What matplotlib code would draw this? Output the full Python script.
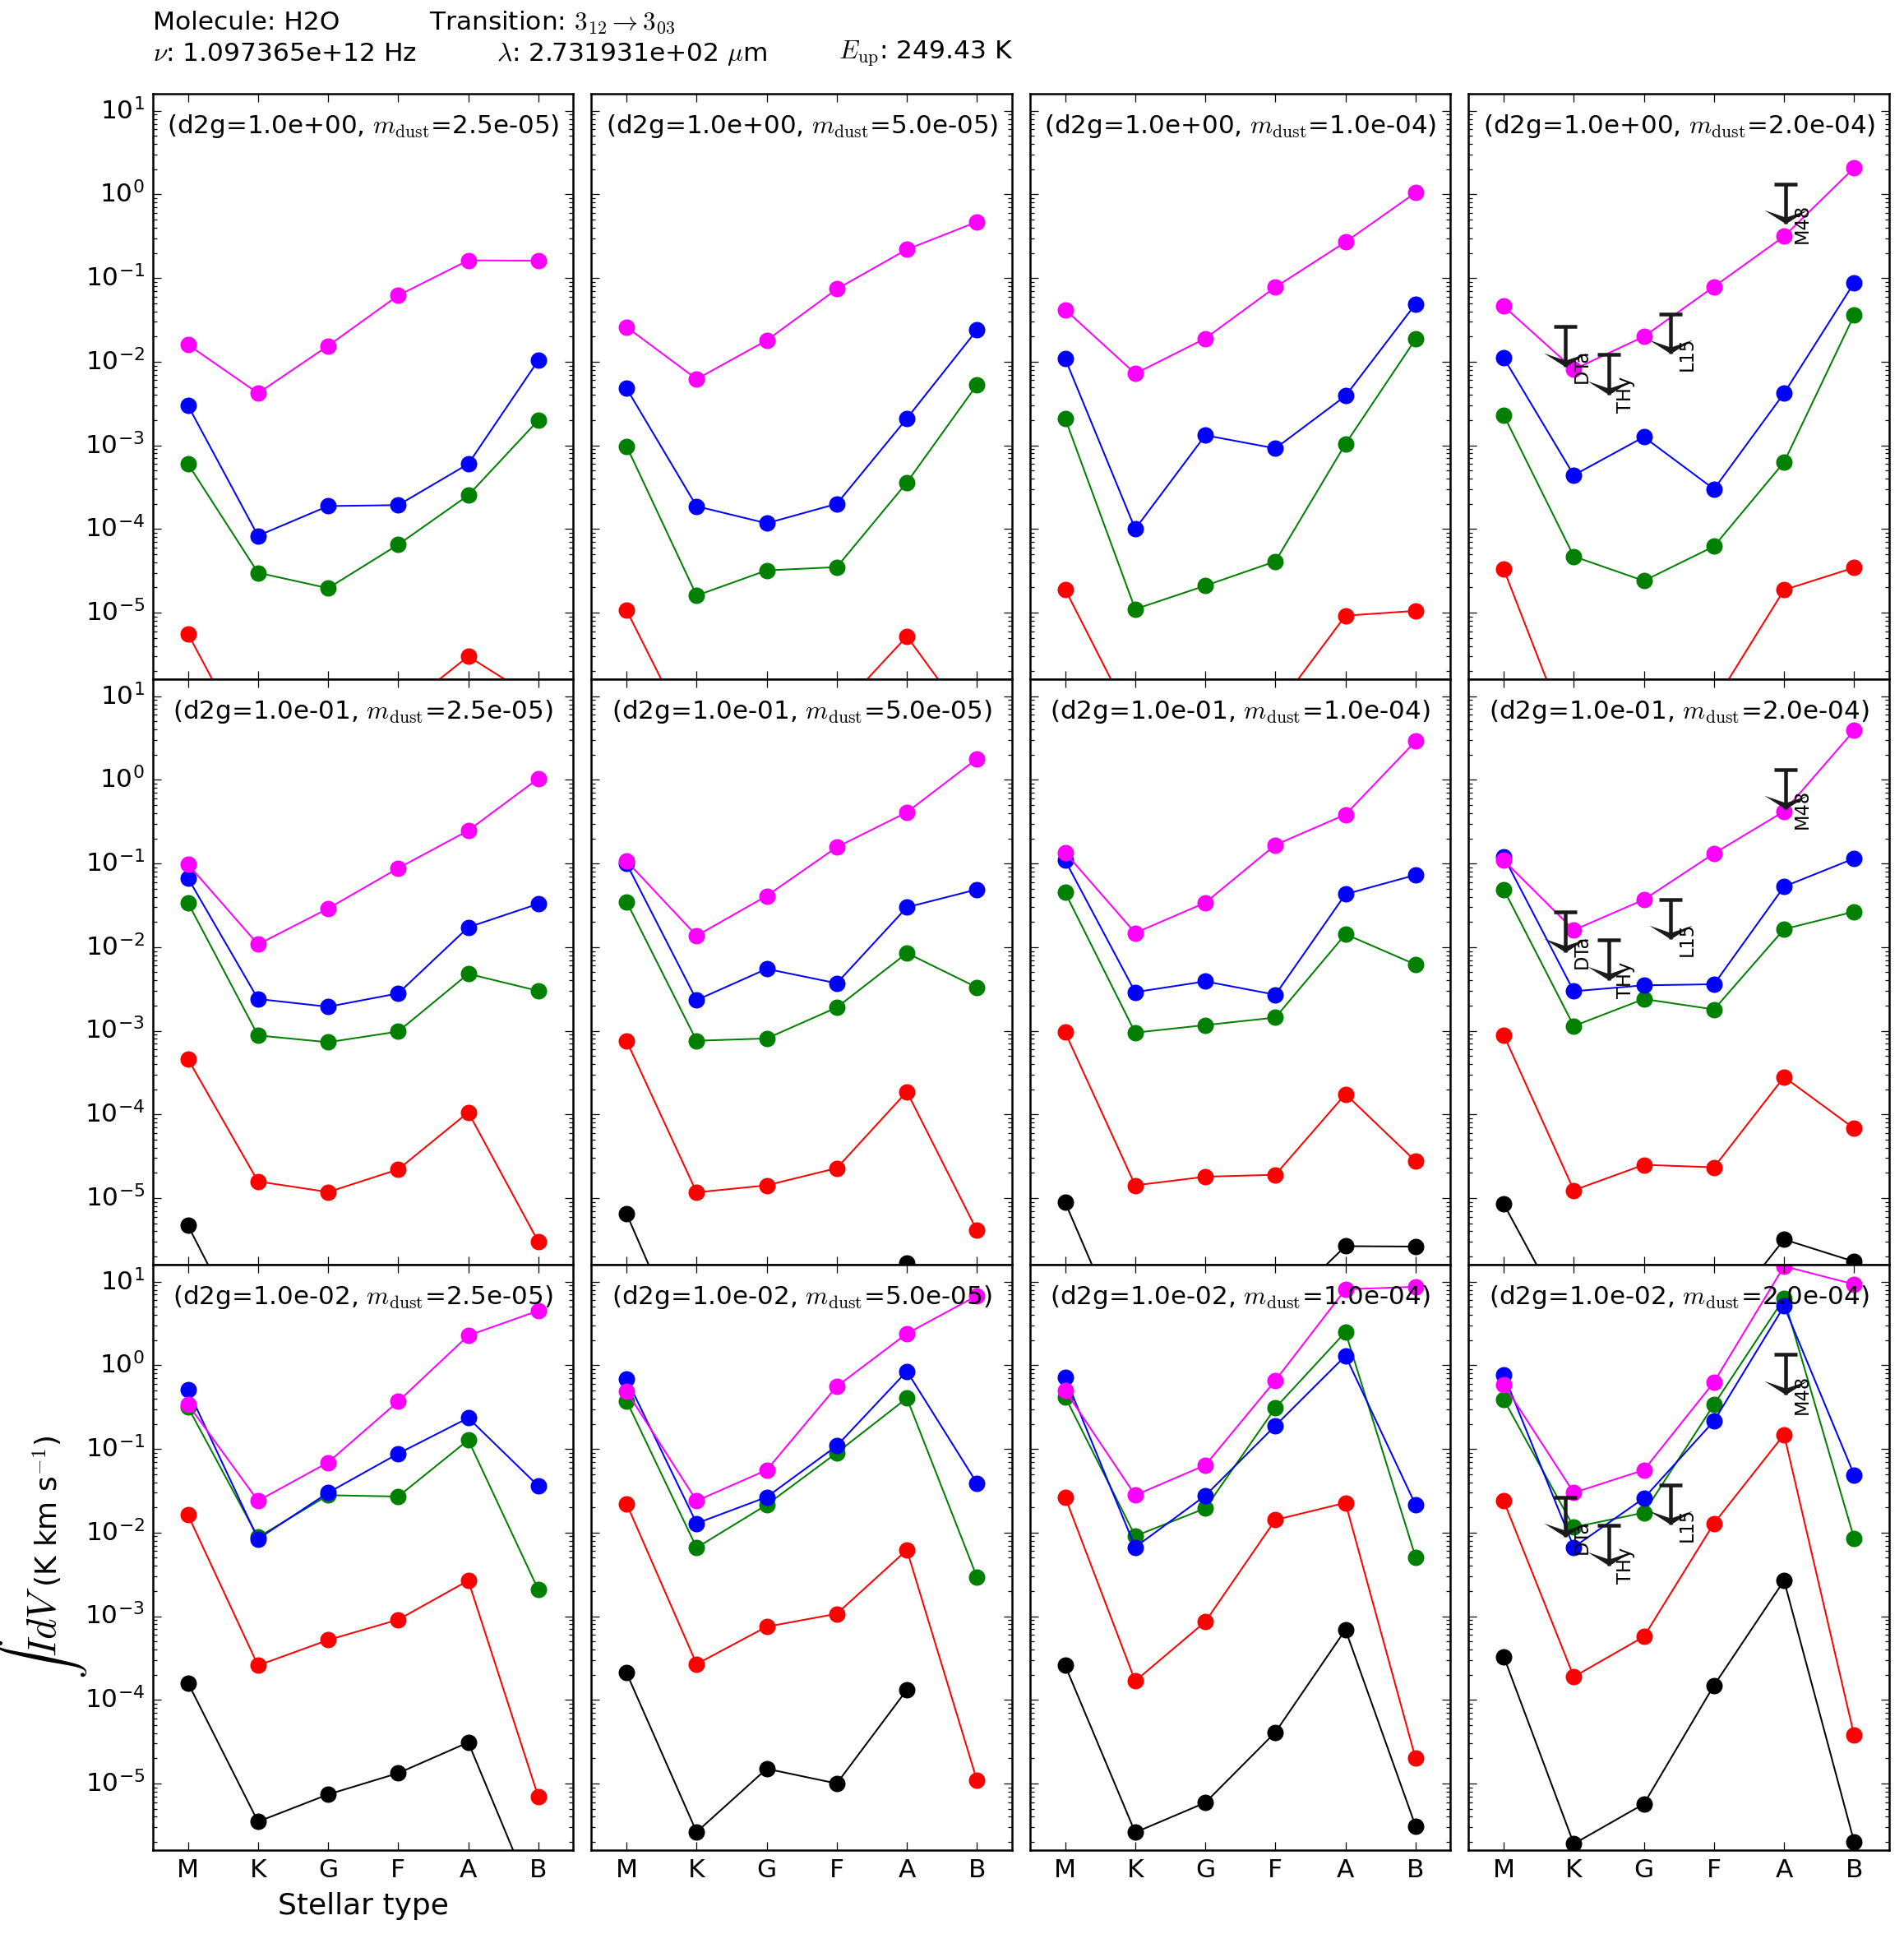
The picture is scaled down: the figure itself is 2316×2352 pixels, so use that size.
import numpy as np
import matplotlib
matplotlib.use("Agg")
import matplotlib.pyplot as plt
from matplotlib.path import Path

nan = np.nan

stellar_types = ['M', 'K', 'G', 'F', 'A', 'B']
d2g_labels = ['1.0e+00', '1.0e-01', '1.0e-02']
mdust_labels = ['2.5e-05', '5.0e-05', '1.0e-04', '2.0e-04']

# one list of 6 values (M K G F A B) per m_dust, for each d2g row
# d2g = 1.0e+00
black_d2g1 = [[nan] * 6, [nan] * 6, [nan] * 6, [nan] * 6]
red_d2g1 = [[5.6e-6, 1.5e-7, 1.2e-7, 6.5e-7, 3.0e-6, 8.9e-7],
            [1.07e-5, 2.3e-7, 1.5e-7, 6.5e-7, 5.2e-6, 3.7e-7],
            [1.9e-5, 4.3e-7, 1.6e-7, 6.9e-7, 9.2e-6, 1.05e-5],
            [3.3e-5, 2.3e-7, 1.5e-7, 8.3e-7, 1.87e-5, 3.45e-5]]
green_d2g1 = [[6.0e-4, 3.0e-5, 1.96e-5, 6.5e-5, 2.53e-4, 2.0e-3],
              [9.8e-4, 1.6e-5, 3.2e-5, 3.5e-5, 3.6e-4, 5.3e-3],
              [2.1e-3, 1.1e-5, 2.1e-5, 4.1e-5, 1.04e-3, 1.86e-2],
              [2.3e-3, 4.7e-5, 2.4e-5, 6.2e-5, 6.3e-4, 3.6e-2]]
blue_d2g1 = [[3.0e-3, 8.3e-5, 1.88e-4, 1.93e-4, 6.0e-4, 1.04e-2],
             [4.8e-3, 1.87e-4, 1.17e-4, 2.0e-4, 2.1e-3, 2.4e-2],
             [1.09e-2, 1.0e-4, 1.32e-3, 9.2e-4, 3.9e-3, 4.9e-2],
             [1.11e-2, 4.4e-4, 1.26e-3, 3.0e-4, 4.2e-3, 8.8e-2]]
magenta_d2g1 = [[1.6e-2, 4.2e-3, 1.55e-2, 6.2e-2, 1.63e-1, 1.61e-1],
                [2.6e-2, 6.2e-3, 1.8e-2, 7.4e-2, 2.2e-1, 4.7e-1],
                [4.2e-2, 7.2e-3, 1.9e-2, 7.8e-2, 2.7e-1, 1.05],
                [4.6e-2, 8.1e-3, 2.0e-2, 7.9e-2, 3.16e-1, 2.08]]

# d2g = 1.0e-01
black_d2g2 = [[4.7e-6, 1.1e-7, nan, nan, nan, nan],
              [6.5e-6, 7.6e-8, nan, nan, 1.67e-6, nan],
              [8.9e-6, 1.0e-7, nan, 4.1e-7, 2.66e-6, 2.63e-6],
              [8.5e-6, 2.4e-7, nan, 2.75e-7, 3.2e-6, 1.74e-6]]
red_d2g2 = [[4.6e-4, 1.58e-5, 1.18e-5, 2.2e-5, 1.06e-4, 3.0e-6],
            [7.6e-4, 1.17e-5, 1.42e-5, 2.28e-5, 1.87e-4, 4.1e-6],
            [9.6e-4, 1.42e-5, 1.8e-5, 1.9e-5, 1.75e-4, 2.76e-5],
            [8.9e-4, 1.24e-5, 2.5e-5, 2.33e-5, 2.8e-4, 6.8e-5]]
green_d2g2 = [[3.4e-2, 8.8e-4, 7.3e-4, 9.8e-4, 4.8e-3, 3.0e-3],
              [3.5e-2, 7.6e-4, 8.1e-4, 1.9e-3, 8.5e-3, 3.3e-3],
              [4.5e-2, 9.5e-4, 1.17e-3, 1.44e-3, 1.43e-2, 6.2e-3],
              [4.9e-2, 1.14e-3, 2.4e-3, 1.8e-3, 1.64e-2, 2.66e-2]]
blue_d2g2 = [[6.7e-2, 2.4e-3, 1.94e-3, 2.8e-3, 1.73e-2, 3.3e-2],
             [1.0e-1, 2.33e-3, 5.5e-3, 3.7e-3, 3.0e-2, 4.9e-2],
             [1.09e-1, 2.9e-3, 3.9e-3, 2.7e-3, 4.3e-2, 7.3e-2],
             [1.21e-1, 2.97e-3, 3.5e-3, 3.6e-3, 5.3e-2, 1.15e-1]]
magenta_d2g2 = [[9.8e-2, 1.08e-2, 2.9e-2, 8.8e-2, 2.48e-1, 1.04],
                [1.07e-1, 1.37e-2, 4.1e-2, 1.57e-1, 4.1e-1, 1.79],
                [1.35e-1, 1.48e-2, 3.4e-2, 1.67e-1, 3.85e-1, 2.9],
                [1.09e-1, 1.6e-2, 3.7e-2, 1.32e-1, 4.2e-1, 3.9]]

# d2g = 1.0e-02
black_d2g3 = [[1.6e-4, 3.5e-6, 7.4e-6, 1.33e-5, 3.1e-5, 3.0e-7],
              [2.1e-4, 2.63e-6, 1.5e-5, 1.0e-5, 1.32e-4, nan],
              [2.58e-4, 2.6e-6, 5.9e-6, 4.1e-5, 6.9e-4, 3.1e-6],
              [3.3e-4, 1.9e-6, 5.7e-6, 1.49e-4, 2.67e-3, 2.0e-6]]
red_d2g3 = [[1.63e-2, 2.58e-4, 5.2e-4, 9.1e-4, 2.67e-3, 6.9e-6],
            [2.22e-2, 2.68e-4, 7.5e-4, 1.07e-3, 6.2e-3, 1.09e-5],
            [2.66e-2, 1.68e-4, 8.6e-4, 1.42e-2, 2.27e-2, 2.0e-5],
            [2.39e-2, 1.89e-4, 5.7e-4, 1.29e-2, 1.49e-1, 3.76e-5]]
green_d2g3 = [[3.17e-1, 8.8e-3, 2.8e-2, 2.7e-2, 1.28e-1, 2.07e-3],
              [3.76e-1, 6.6e-3, 2.15e-2, 9.0e-2, 4.05e-1, 2.94e-3],
              [4.2e-1, 9.1e-3, 1.95e-2, 3.1e-1, 2.5, 5.1e-3],
              [3.9e-1, 1.16e-2, 1.73e-2, 3.4e-1, 6.3, 8.5e-3]]
blue_d2g3 = [[5.1e-1, 8.4e-3, 3.0e-2, 8.8e-2, 2.35e-1, 3.6e-2],
             [6.9e-1, 1.29e-2, 2.66e-2, 1.09e-1, 8.5e-1, 3.9e-2],
             [7.2e-1, 6.7e-3, 2.77e-2, 1.9e-1, 1.3, 2.15e-2],
             [7.7e-1, 6.7e-3, 2.58e-2, 2.16e-1, 5.1, 4.9e-2]]
magenta_d2g3 = [[3.42e-1, 2.4e-2, 6.9e-2, 3.7e-1, 2.27, 4.5],
                [4.9e-1, 2.4e-2, 5.6e-2, 5.6e-1, 2.4, 6.8],
                [5.0e-1, 2.8e-2, 6.4e-2, 6.6e-1, 8.1, 8.7],
                [5.9e-1, 3.0e-2, 5.6e-2, 6.3e-1, 15.3, 9.3]]

# observed upper limits (shown in the m_dust = 2e-4 column)
limit_names = ['DTa', 'THy', 'L15', 'M48']
limit_x = [0.88, 1.50, 2.38, 4.02]
limit_y = [0.0264, 0.0121, 0.0372, 1.34]

rows = [
    [black_d2g1, red_d2g1, green_d2g1, blue_d2g1, magenta_d2g1],
    [black_d2g2, red_d2g2, green_d2g2, blue_d2g2, magenta_d2g2],
    [black_d2g3, red_d2g3, green_d2g3, blue_d2g3, magenta_d2g3],
]
colors = ['k', 'r', (0, 0.5, 0), 'b', 'magenta']

plt.style.use('classic')
plt.rcParams['axes.unicode_minus'] = False
plt.rcParams['mathtext.fontset'] = 'cm'
plt.rcParams['figure.facecolor'] = 'white'
plt.rcParams['font.size'] = 12.5
plt.rcParams['xtick.labelsize'] = 12.5
plt.rcParams['ytick.labelsize'] = 12.5

fig, axes = plt.subplots(3, 4, figsize=(12.867, 13.067), dpi=180,
                         sharex=True, sharey=True)
fig.subplots_adjust(left=0.0803, right=0.9922, top=0.9515, bottom=0.0434,
                    wspace=0.043, hspace=0.0)

xpos = np.arange(len(stellar_types))

# arrow head for upper limits
arrow_head = Path([(-1, 0.64), (0, 0), (1, 0.64), (0, 0.3), (-1, 0.64)],
                  [Path.MOVETO, Path.LINETO, Path.LINETO, Path.LINETO,
                   Path.CLOSEPOLY])

for i in range(3):
    for j in range(4):
        ax = axes[i, j]
        for series, c in zip(rows[i], colors):
            ax.plot(xpos, series[j], '-o', color=c, mec=c, mfc=c, mew=0,
                    ms=8, lw=0.8)
        if j == 3:
            lows = np.array(limit_y) / 3.0
            ax.vlines(limit_x, lows, limit_y, color='0.1', lw=1.8)
            ax.plot(limit_x, limit_y, ls='none', marker='_', ms=11,
                    mew=1.8, color='0.1')
            ax.plot(limit_x, lows, ls='none', marker=arrow_head, ms=21,
                    mew=0, color='0.1')
            for nm, lx, ly in zip(limit_names, limit_x, lows):
                ax.text(lx + 0.1, ly, nm, rotation=90, ha='left',
                        va='center', fontsize=9)
        ax.set_yscale('log')
        ax.set_ylim(1.6e-6, 16)
        ax.set_xlim(-0.5, 5.5)
        ax.set_xticks(xpos)
        ax.set_xticklabels(stellar_types)
        ax.text(0.5, 0.945,
                '(d2g=%s, $m_{\\rm dust}$=%s)' % (d2g_labels[i], mdust_labels[j]),
                transform=ax.transAxes, ha='center', va='center', fontsize=12.4)

axes[2, 0].set_xlabel('Stellar type', fontsize=14.4)

# y label: integral symbol drawn larger than the units
fig.text(0.0225, 0.156, r'$\int I dV$', rotation=90, ha='center',
         va='center', fontsize=19.5)
fig.text(0.0245, 0.2187, r'(K km s$^{-1}$)', rotation=90, ha='center',
         va='center', fontsize=14.4)

fig.text(0.0803, 0.9885, 'Molecule: H2O', ha='left', va='center', fontsize=12.5)
fig.text(0.2254, 0.9885, r'Transition: $3_{12}\rightarrow3_{03}$',
         ha='left', va='center', fontsize=12.5)
fig.text(0.0803, 0.972, r'$\nu$: 1.097365e+12 Hz', ha='left', va='center',
         fontsize=12.5)
fig.text(0.261, 0.972, r'$\lambda$: 2.731931e+02 $\mu$m', ha='left',
         va='center', fontsize=12.5)
fig.text(0.4404, 0.972, r'$E_{\rm up}$: 249.43 K', ha='left', va='center',
         fontsize=12.5)

fig.savefig('out.png', dpi=180, facecolor='white')
